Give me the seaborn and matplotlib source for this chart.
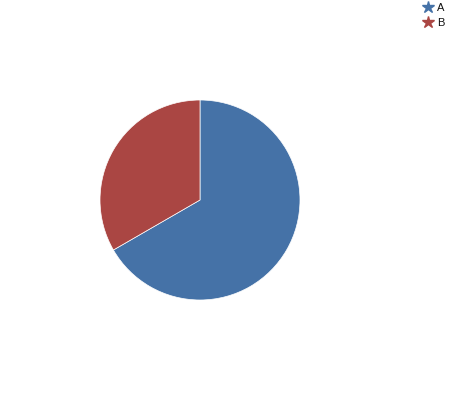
import matplotlib
matplotlib.use("Agg")
import matplotlib.pyplot as plt
import seaborn as sns
from matplotlib.lines import Line2D

# data
labels = ['A', 'B']
values = [2, 1]
colors = ['#4572A7', '#AA4643']

sns.set_theme(style='white')
plt.rcParams['font.family'] = ['Liberation Sans', 'DejaVu Sans']

fig = plt.figure(figsize=(4.53, 4.0), dpi=100)
ax = fig.add_axes([100 / 453, 100 / 400, 200 / 453, 200 / 400])

ax.pie(values, colors=colors, startangle=90, counterclock=False,
       radius=1.0, wedgeprops={'edgecolor': 'white', 'linewidth': 0.5})
ax.set_xlim(-1, 1)
ax.set_ylim(-1, 1)
ax.set_aspect('equal')
ax.axis('off')

# legend with star markers, top right
handles = [Line2D([0], [0], marker='*', linestyle='none', markersize=9,
                  markerfacecolor=c, markeredgecolor=c) for c in colors]
leg = fig.legend(handles, labels, loc='upper left', bbox_to_anchor=(420 / 453, 1.0 - 3 / 400),
                 frameon=False, fontsize=8, handletextpad=0.1, labelspacing=0.45,
                 handlelength=1.4, borderaxespad=0.0, borderpad=0.0)
for t in leg.get_texts():
    t.set_color('#111111')

fig.savefig('out.png', dpi=100)
